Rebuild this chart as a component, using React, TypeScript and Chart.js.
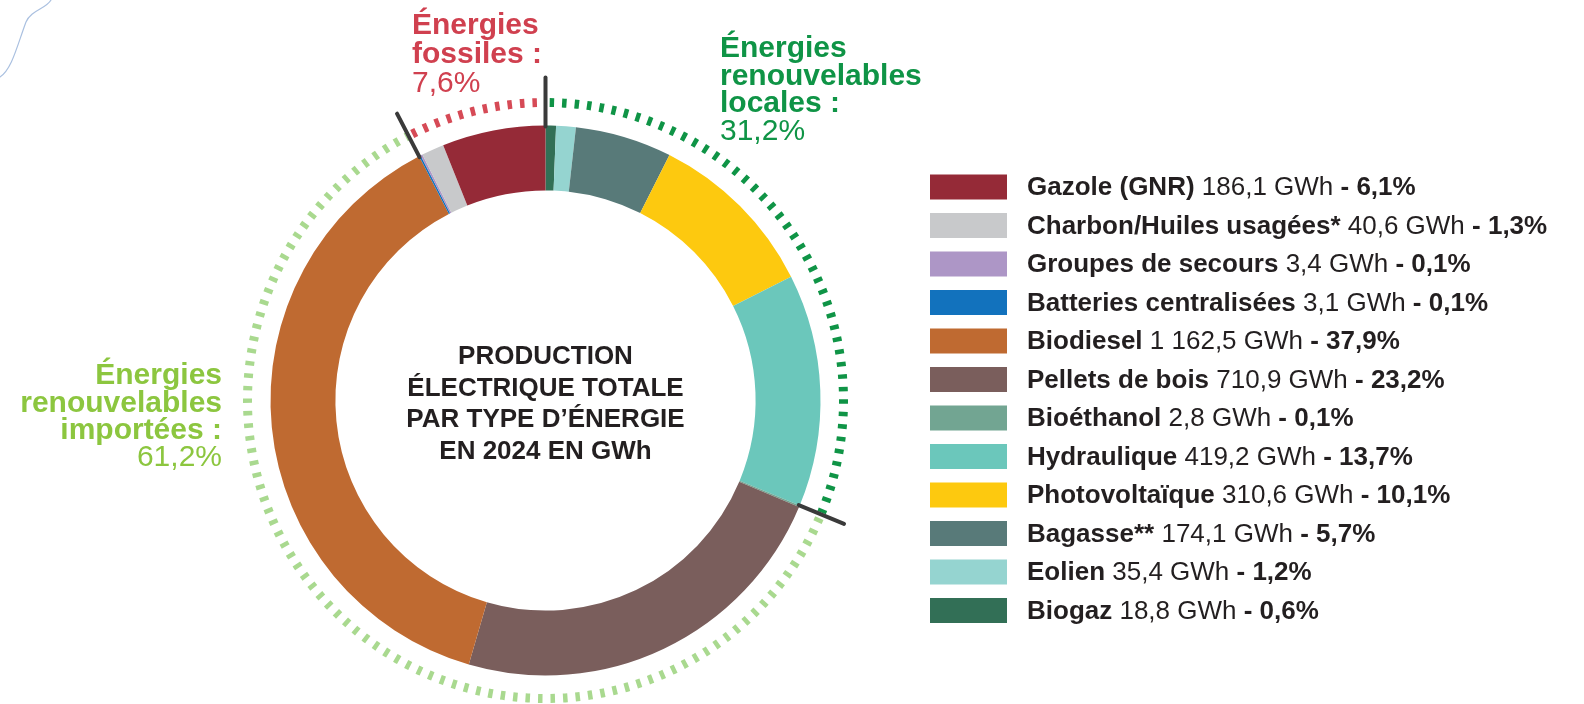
import React, { useEffect, useRef } from 'react';
import { Chart, registerables } from 'chart.js';

Chart.register(...registerables);

// ---------- DATA (legend order, top to bottom) ----------
const categories = [
  'Gazole (GNR)',
  'Charbon/Huiles usagées*',
  'Groupes de secours',
  'Batteries centralisées',
  'Biodiesel',
  'Pellets de bois',
  'Bioéthanol',
  'Hydraulique',
  'Photovoltaïque',
  'Bagasse**',
  'Eolien',
  'Biogaz',
];
const valuesGWh = [186.1, 40.6, 3.4, 3.1, 1162.5, 710.9, 2.8, 419.2, 310.6, 174.1, 35.4, 18.8];
const valueLabels = ['186,1', '40,6', '3,4', '3,1', '1 162,5', '710,9', '2,8', '419,2', '310,6', '174,1', '35,4', '18,8'];
const percentLabels = ['6,1%', '1,3%', '0,1%', '0,1%', '37,9%', '23,2%', '0,1%', '13,7%', '10,1%', '5,7%', '1,2%', '0,6%'];
const sliceColors = [
  '#952a37', '#c8c9cb', '#ad96c6', '#1272bd', '#bf6a31', '#7a5e5c',
  '#72a592', '#6bc7bb', '#fdc90f', '#587a79', '#95d4d0', '#326f56',
];
const sliceGroups = [
  'fossil', 'fossil', 'fossil', 'fossil', 'imported', 'imported',
  'imported', 'local', 'local', 'local', 'local', 'local',
];

const groupKeys = ['fossil', 'local', 'imported'];
const groupTitles = [
  ['Énergies', 'fossiles :'],
  ['Énergies', 'renouvelables', 'locales :'],
  ['Énergies', 'renouvelables', 'importées :'],
];
const groupPercents = ['7,6%', '31,2%', '61,2%'];
const groupTextColors = ['#d0404f', '#0f9446', '#8cc63f'];
const groupDotColors = ['#d64a56', '#0f9446', '#a9d98f'];

const centerTitle = ['PRODUCTION', 'ÉLECTRIQUE TOTALE', 'PAR TYPE D’ÉNERGIE', 'EN 2024 EN GWh'];

// chart draws clockwise from top: reverse of legend order
const chartLabels = [...categories].reverse();
const chartValues = [...valuesGWh].reverse();
const chartColors = [...sliceColors].reverse();
const chartGroups = [...sliceGroups].reverse();

const FONT = '"Liberation Sans", Arial, Helvetica, sans-serif';
const TEXT_DARK = '#231f20';

const overlayPlugin = {
  id: 'overlay',
  afterDraw(chart: any) {
    const ctx: CanvasRenderingContext2D = chart.ctx;
    const meta = chart.getDatasetMeta(0);
    const arcs: any[] = meta.data;
    if (!arcs.length) return;
    const cx = arcs[0].x;
    const cy = arcs[0].y;
    const outer = arcs[0].outerRadius;

    // group angle spans
    const spans: Record<string, [number, number]> = {};
    arcs.forEach((a: any, i: number) => {
      const g = chartGroups[i];
      const p = a.getProps(['startAngle', 'endAngle'], true);
      if (!spans[g]) spans[g] = [p.startAngle, p.endAngle];
      else {
        spans[g][0] = Math.min(spans[g][0], p.startAngle);
        spans[g][1] = Math.max(spans[g][1], p.endAngle);
      }
    });

    ctx.save();
    // dotted arcs
    const dotR = outer + 23;
    groupKeys.forEach((g, gi) => {
      const s = spans[g];
      if (!s) return;
      ctx.beginPath();
      ctx.setLineDash([4.5, 8]);
      ctx.lineWidth = 9;
      ctx.strokeStyle = groupDotColors[gi];
      ctx.arc(cx, cy, dotR, s[0] + 0.014, s[1] - 0.006);
      ctx.stroke();
    });
    ctx.setLineDash([]);

    // boundary ticks
    const tickAngles = groupKeys.map((g) => (spans[g] ? spans[g][0] : null)).filter((v) => v !== null) as number[];
    ctx.strokeStyle = '#3a3a3a';
    ctx.lineWidth = 4;
    ctx.lineCap = 'round';
    tickAngles.forEach((a) => {
      ctx.beginPath();
      ctx.moveTo(cx + Math.cos(a) * (outer - 1), cy + Math.sin(a) * (outer - 1));
      ctx.lineTo(cx + Math.cos(a) * (outer + 48), cy + Math.sin(a) * (outer + 48));
      ctx.stroke();
    });

    // center title
    ctx.fillStyle = TEXT_DARK;
    ctx.font = `bold 26px ${FONT}`;
    ctx.textAlign = 'center';
    ctx.textBaseline = 'middle';
    centerTitle.forEach((line, i) => {
      ctx.fillText(line, cx, cy + 4 + (i - 1.5) * 31.5);
    });

    // group labels
    const labelPos = [
      { x: 412, y: 25.5, align: 'left' as CanvasTextAlign, lh: 29 },
      { x: 720, y: 49, align: 'left' as CanvasTextAlign, lh: 27.5 },
      { x: 222, y: 376, align: 'right' as CanvasTextAlign, lh: 27.3 },
    ];
    groupKeys.forEach((g, gi) => {
      const p = labelPos[gi];
      ctx.fillStyle = groupTextColors[gi];
      ctx.textAlign = p.align;
      ctx.textBaseline = 'middle';
      ctx.font = `bold 30px ${FONT}`;
      groupTitles[gi].forEach((line, li) => {
        ctx.fillText(line, p.x, p.y + li * p.lh);
      });
      ctx.font = `30px ${FONT}`;
      ctx.fillText(groupPercents[gi], p.x, p.y + groupTitles[gi].length * p.lh);
    });

    // legend
    const lx = 930;
    const ly = 187;
    const step = 38.5;
    ctx.textAlign = 'left';
    ctx.textBaseline = 'middle';
    categories.forEach((name, i) => {
      const y = ly + i * step;
      ctx.fillStyle = sliceColors[i];
      ctx.fillRect(lx, y - 12.5, 77, 25);
      let x = lx + 97;
      ctx.fillStyle = TEXT_DARK;
      ctx.font = `bold 26px ${FONT}`;
      ctx.fillText(name, x, y + 1);
      x += ctx.measureText(name + ' ').width;
      ctx.font = `26px ${FONT}`;
      const mid = `${valueLabels[i]} GWh `;
      ctx.fillText(mid, x, y + 1);
      x += ctx.measureText(mid).width;
      ctx.font = `bold 26px ${FONT}`;
      ctx.fillText(`- ${percentLabels[i]}`, x, y + 1);
    });

    // decorative curve top-left
    ctx.beginPath();
    ctx.strokeStyle = '#aac0e0';
    ctx.lineWidth = 1.2;
    ctx.moveTo(0, 77);
    ctx.bezierCurveTo(12, 69, 17, 46, 26, 22);
    ctx.bezierCurveTo(31, 10, 46, 9, 51, 0);
    ctx.stroke();
    ctx.restore();
  },
};

export default function App() {
  const canvasRef = useRef<HTMLCanvasElement | null>(null);

  useEffect(() => {
    if (!canvasRef.current) return;
    const chart = new Chart(canvasRef.current, {
      type: 'doughnut',
      data: {
        labels: chartLabels,
        datasets: [
          {
            data: chartValues,
            backgroundColor: chartColors,
            borderWidth: 0,
          },
        ],
      },
      options: {
        responsive: false,
        animation: false,
        events: [],
        cutout: '76.4%',
        layout: { padding: { left: 270.5, top: 125.5, right: 763.5, bottom: 28.5 } },
        plugins: {
          legend: { display: false },
          tooltip: { enabled: false },
          title: { display: false },
        },
      },
      plugins: [overlayPlugin],
    });
    return () => chart.destroy();
  }, []);

  return (
    <div style={{ position: 'fixed', left: 0, top: 0, width: 1584, height: 704, background: '#ffffff' }}>
      <canvas ref={canvasRef} width={1584} height={704} style={{ display: 'block', width: 1584, height: 704 }} />
    </div>
  );
}
